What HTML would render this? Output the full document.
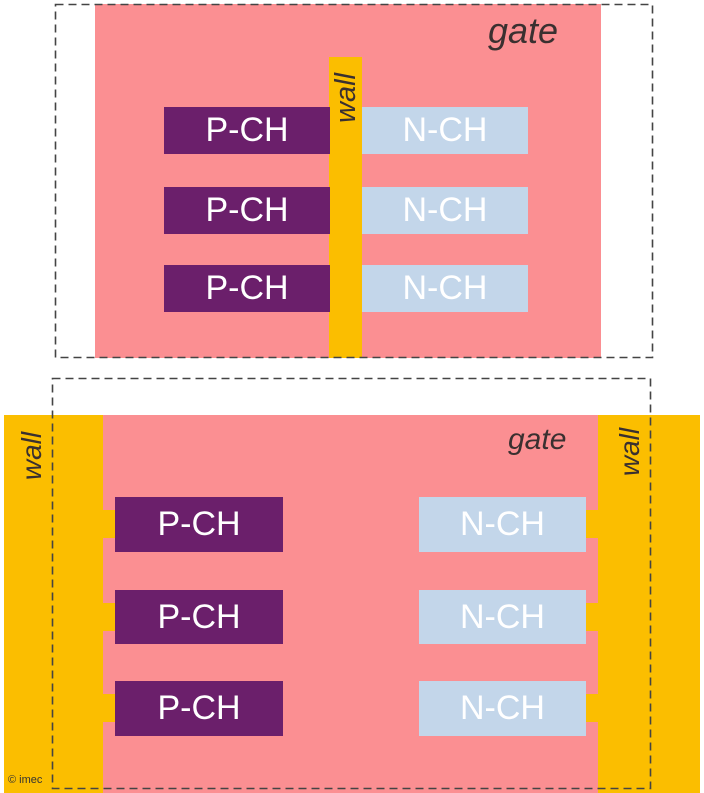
<!DOCTYPE html>
<html><head><style>
body{margin:0;width:704px;height:793px;background:#fff;position:relative;overflow:hidden;font-family:"Liberation Sans",sans-serif}
div{position:absolute;box-sizing:border-box}
.p{background:#6b1f6b;color:#fff;font-size:34px;text-align:center}
.n{background:#c3d6ea;color:#fff;font-size:34px;text-align:center}
.y{background:#fbbe00}
.pk{background:#fb8f92}
.t{color:#3a3030;font-style:italic}
svg{position:absolute;left:0;top:0}
</style></head><body>
<div class="pk" style="left:95px;top:4px;width:506px;height:354px"></div>
<div class="y" style="left:329px;top:57px;width:33px;height:301px"></div>
<div class="t" style="left:488px;top:10px;font-size:36px">gate</div>
<div class="t" style="left:304px;top:82px;width:84px;height:32px;font-size:29px;line-height:32px;text-align:center;transform:rotate(-90deg)">wall</div>
<div class="p" style="left:164px;top:107px;width:166px;height:47px;line-height:47px">P-CH</div>
<div class="p" style="left:164px;top:187px;width:166px;height:47px;line-height:47px">P-CH</div>
<div class="p" style="left:164px;top:265px;width:166px;height:47px;line-height:47px">P-CH</div>
<div class="n" style="left:362px;top:107px;width:166px;height:47px;line-height:47px">N-CH</div>
<div class="n" style="left:362px;top:187px;width:166px;height:47px;line-height:47px">N-CH</div>
<div class="n" style="left:362px;top:265px;width:166px;height:47px;line-height:47px">N-CH</div>

<div class="y" style="left:4px;top:415px;width:696px;height:378px"></div>
<div class="pk" style="left:103px;top:415px;width:495px;height:378px"></div>
<div class="y" style="left:101px;top:510px;width:16px;height:28px"></div>
<div class="y" style="left:101px;top:603px;width:16px;height:28px"></div>
<div class="y" style="left:101px;top:694px;width:16px;height:28px"></div>
<div class="y" style="left:584px;top:510px;width:16px;height:28px"></div>
<div class="y" style="left:584px;top:603px;width:16px;height:28px"></div>
<div class="y" style="left:584px;top:694px;width:16px;height:28px"></div>
<div class="p" style="left:115px;top:497px;width:168px;height:55px;line-height:55px">P-CH</div>
<div class="p" style="left:115px;top:590px;width:168px;height:54px;line-height:54px">P-CH</div>
<div class="p" style="left:115px;top:681px;width:168px;height:55px;line-height:55px">P-CH</div>
<div class="n" style="left:419px;top:497px;width:167px;height:55px;line-height:55px">N-CH</div>
<div class="n" style="left:419px;top:590px;width:167px;height:54px;line-height:54px">N-CH</div>
<div class="n" style="left:419px;top:681px;width:167px;height:55px;line-height:55px">N-CH</div>
<div class="t" style="left:508px;top:423px;font-size:30px">gate</div>
<div class="t" style="left:-4px;top:440px;width:72px;height:32px;font-size:28px;line-height:32px;text-align:center;transform:rotate(-90deg)">wall</div>
<div class="t" style="left:594px;top:436px;width:72px;height:32px;font-size:28px;line-height:32px;text-align:center;transform:rotate(-90deg)">wall</div>
<div style="left:8px;top:774px;font-size:11px;color:#333">© imec</div>
<svg width="704" height="793"><g fill="none" stroke="#444" stroke-width="1.6" stroke-dasharray="8,5">
<rect x="55.5" y="4.5" width="597" height="353"/>
<rect x="52.5" y="378.5" width="598" height="410"/></g></svg>
</body></html>
